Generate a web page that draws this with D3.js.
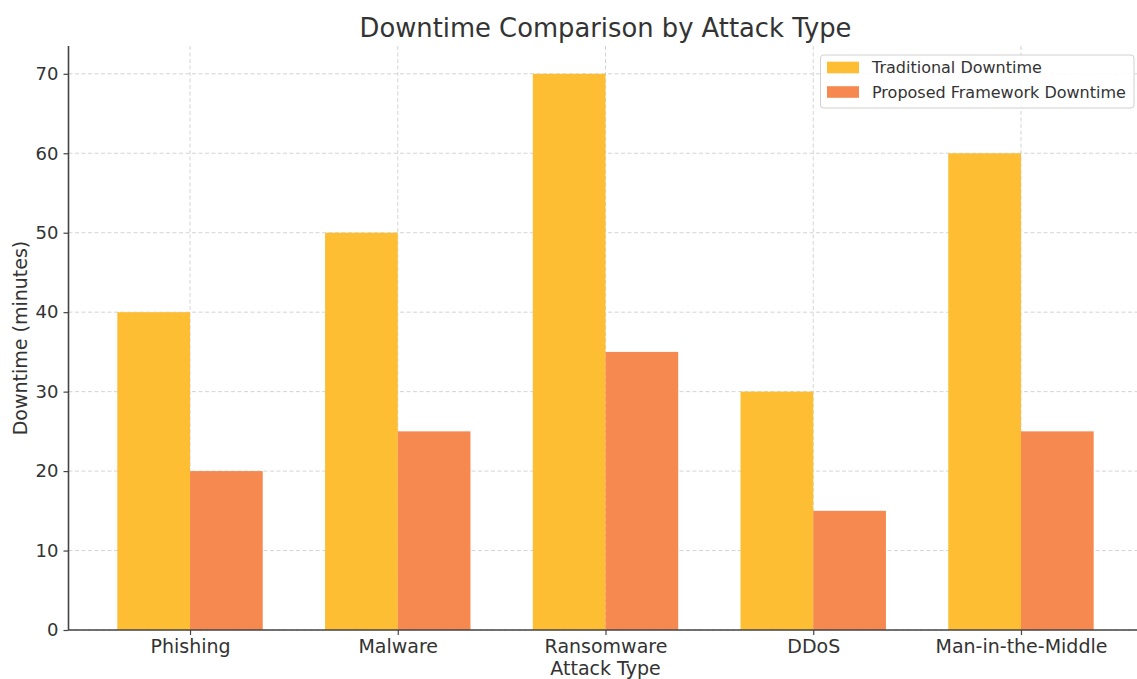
<!DOCTYPE html>
<html>
<head>
<meta charset="utf-8">
<script src="https://cdn.jsdelivr.net/npm/d3@7"></script>
<style>
  html, body { margin: 0; padding: 0; background: #fff; }
  svg { display: block; font-family: "DejaVu Sans", sans-serif; }
</style>
</head>
<body>
<svg id="chart" width="1137" height="679"></svg>
<script>
// Downtime per attack type, in minutes
const attackTypes = ["Phishing", "Malware", "Ransomware", "DDoS", "Man-in-the-Middle"];
const traditionalDowntime = [40, 50, 70, 30, 60];
const proposedDowntime = [20, 25, 35, 15, 25];
const yTicks = [0, 10, 20, 30, 40, 50, 60, 70];
const seriesNames = ["Traditional Downtime", "Proposed Framework Downtime"];
const seriesColors = ["#fdbe33", "#f5894f"];

(function () {
  const svg = d3.select("#chart");
  const textColor = "#333333";

  // Plot area
  const plotLeft = 68.5, plotRight = 1142.5, plotTop = 46, plotBottom = 630;
  const barWidth = 0.35;

  // Index-based x scale so the bars sit at i ± width/2
  const x = d3.scaleLinear().domain([-0.585, attackTypes.length - 1 + 0.585]).range([plotLeft, plotRight]);
  const y = d3.scaleLinear().domain([0, 73.5]).range([plotBottom, plotTop]);

  // Grid
  const grid = svg.append("g").attr("stroke", "#cfcfcf").attr("stroke-width", 0.9).attr("stroke-dasharray", "4,2.5");
  grid.selectAll("line.h").data(yTicks).join("line")
    .attr("x1", plotLeft).attr("x2", plotRight)
    .attr("y1", d => y(d)).attr("y2", d => y(d));
  grid.selectAll("line.v").data(attackTypes).join("line")
    .attr("x1", (d, i) => x(i)).attr("x2", (d, i) => x(i))
    .attr("y1", plotTop).attr("y2", plotBottom);

  // Bars
  const series = [traditionalDowntime, proposedDowntime];
  series.forEach((vals, s) => {
    const offset = s === 0 ? -barWidth : 0;
    svg.append("g").selectAll("rect").data(vals).join("rect")
      .attr("x", (d, i) => x(i + offset))
      .attr("width", (d, i) => x(i + offset + barWidth) - x(i + offset))
      .attr("y", d => y(d))
      .attr("height", d => y(0) - y(d))
      .attr("fill", seriesColors[s]);
  });

  // Axes
  const yAxis = d3.axisLeft(y).tickValues(yTicks).tickSize(5).tickPadding(5);
  const yg = svg.append("g").attr("transform", `translate(${plotLeft},0)`).call(yAxis);
  yg.select(".domain").attr("stroke", "#444").attr("stroke-width", 1.6).attr("d", `M0,${plotBottom}V${plotTop}`);
  yg.selectAll(".tick line").attr("stroke", "#444").attr("stroke-width", 1.2);
  yg.selectAll(".tick text").attr("fill", textColor).style("font-size", "18px")
    .style("font-family", "DejaVu Sans, sans-serif");

  const xAxis = d3.axisBottom(x).tickValues(d3.range(attackTypes.length))
    .tickFormat(i => attackTypes[i]).tickSize(5).tickPadding(5);
  const xg = svg.append("g").attr("transform", `translate(0,${plotBottom})`).call(xAxis);
  xg.select(".domain").attr("stroke", "#444").attr("stroke-width", 1.6).attr("d", `M${plotLeft},0H${plotRight}`);
  xg.selectAll(".tick line").attr("stroke", "#444").attr("stroke-width", 1.2);
  xg.selectAll(".tick text").attr("fill", textColor).style("font-size", "19px")
    .style("font-family", "DejaVu Sans, sans-serif");

  // Title and axis labels
  svg.append("text").attr("x", (plotLeft + plotRight) / 2).attr("y", 37)
    .attr("text-anchor", "middle").attr("fill", textColor)
    .style("font-size", "25.8px").text("Downtime Comparison by Attack Type");
  svg.append("text").attr("x", (plotLeft + plotRight) / 2).attr("y", 675)
    .attr("text-anchor", "middle").attr("fill", textColor)
    .style("font-size", "19px").text("Attack Type");
  svg.append("text").attr("transform", `translate(27,${(plotTop + plotBottom) / 2}) rotate(-90)`)
    .attr("text-anchor", "middle").attr("fill", textColor)
    .style("font-size", "19px").text("Downtime (minutes)");

  // Legend
  const legend = svg.append("g");
  legend.append("rect").attr("x", 820.5).attr("y", 55).attr("width", 313.5).attr("height", 53)
    .attr("rx", 3).attr("fill", "#fff").attr("fill-opacity", 0.85)
    .attr("stroke", "#d0d0d0").attr("stroke-width", 1);
  seriesNames.forEach((name, s) => {
    const cy = 67.5 + s * 24.5;
    legend.append("rect").attr("x", 827).attr("y", cy - 5.8).attr("width", 32).attr("height", 11.6)
      .attr("fill", seriesColors[s]);
    legend.append("text").attr("x", 872).attr("y", cy).attr("dy", "0.35em")
      .attr("fill", textColor).style("font-size", "16px").text(name);
  });
})();
</script>
</body>
</html>
